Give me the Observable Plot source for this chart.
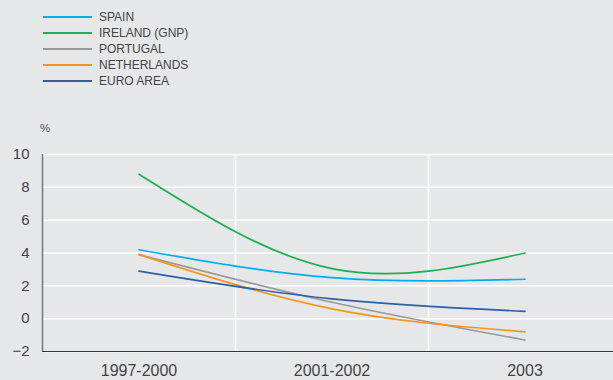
<!DOCTYPE html>
<html>
<head>
<meta charset="utf-8">
<script src="https://cdn.jsdelivr.net/npm/d3@7"></script>
<script src="https://cdn.jsdelivr.net/npm/@observablehq/plot@0.6"></script>
<style>
  html, body { margin: 0; padding: 0; background: #e6e7e8; overflow: hidden; }
  body { width: 613px; height: 380px; position: relative; font-family: "Liberation Sans", Arial, sans-serif; color: #444; }
  #legend { position: absolute; left: 43px; top: 9px; }
  .row { display: flex; align-items: center; height: 16px; font-size: 12px; }
  .row svg { margin-right: 7px; }
  #unit { position: absolute; left: 40px; top: 122px; font-size: 11.5px; color: #555; }
  #chart { position: absolute; left: 0; top: 100px; }
</style>
</head>
<body>
<div id="legend"></div>
<div id="unit">%</div>
<div id="chart"></div>
<script>
const categories = ["1997-2000", "2001-2002", "2003"];
const seriesNames = ["SPAIN", "IRELAND (GNP)", "PORTUGAL", "NETHERLANDS", "EURO AREA"];
const seriesColors = ["#00adef", "#19b24b", "#999999", "#f7941d", "#2c5fa5"];
const spain = [4.2, 2.5, 2.4];
const ireland = [8.8, 3.05, 4.0];
const portugal = [3.9, 1.0, -1.3];
const netherlands = [3.9, 0.6, -0.8];
const euroArea = [2.9, 1.2, 0.45];
const yTicks = [-2, 0, 2, 4, 6, 8, 10];

const valuesBySeries = [spain, ireland, portugal, netherlands, euroArea];
const data = [];
seriesNames.forEach((s, k) => valuesBySeries[k].forEach((v, i) => data.push({series: s, i, v})));

// legend
const legend = document.getElementById("legend");
seriesNames.forEach((s, k) => {
  const row = document.createElement("div");
  row.className = "row";
  row.innerHTML = `<svg width="49" height="4"><line x1="0" x2="49" y1="2" y2="2" stroke="${seriesColors[k]}" stroke-width="2"/></svg><span>${s}</span>`;
  legend.appendChild(row);
});

const chart = Plot.plot({
  width: 613,
  height: 280,
  marginTop: 54,
  marginBottom: 29,
  marginLeft: 42,
  marginRight: 0,
  style: {background: "transparent", fontFamily: "'Liberation Sans', Arial, sans-serif", fontSize: "15px", color: "#444"},
  x: {domain: [-0.5, 2.4585], axis: null},
  y: {domain: [-2, 10], axis: null},
  color: {domain: seriesNames, range: seriesColors},
  marks: [
    Plot.ruleY(yTicks, {stroke: "white", strokeWidth: 1.5}),
    Plot.ruleX([0.5, 1.5], {stroke: "white", strokeWidth: 1.5}),
    Plot.axisY({ticks: yTicks, tickSize: 0, tickPadding: 13, label: null}),
    Plot.axisX({ticks: [0, 1, 2], tickFormat: i => categories[i], tickSize: 0, tickPadding: 13, fontSize: 16, label: null}),
    Plot.ruleX([-0.5], {stroke: "#777", strokeWidth: 1.5}),
    Plot.ruleY([-2], {stroke: "#333", strokeWidth: 1.2}),
    Plot.line(data, {x: "i", y: "v", stroke: "series", curve: "natural", strokeWidth: 1.7})
  ]
});
document.getElementById("chart").appendChild(chart);
</script>
</body>
</html>
